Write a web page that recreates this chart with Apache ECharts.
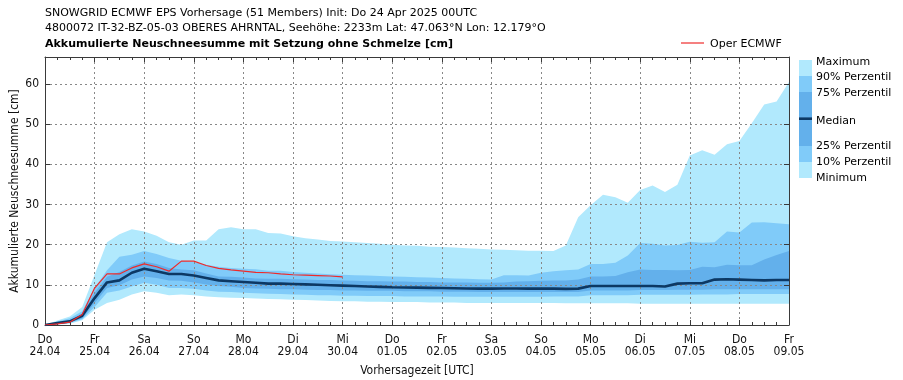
<!DOCTYPE html>
<html>
<head>
<meta charset="utf-8">
<script src="https://cdn.jsdelivr.net/npm/echarts@6/dist/echarts.min.js"></script>
<style>
html,body{margin:0;padding:0;background:#fff;}
#chart{width:903px;height:380px;}
</style>
</head>
<body>
<div id="chart"></div>
<script>
// ---- data (6-hourly steps from 24.04.2025 00UTC) ----
const stepHours = 6;
const dayNames = ["Do","Fr","Sa","So","Mo","Di","Mi","Do","Fr","Sa","So","Mo","Di","Mi","Do","Fr"];
const dayDates = ["24.04","25.04","26.04","27.04","28.04","29.04","30.04","01.05","02.05","03.05","04.05","05.05","06.05","07.05","08.05","09.05"];
const yTicks = [0,10,20,30,40,50,60];

const minimum = [0,0.1,0.3,1.2,3.8,5.5,6.3,7.6,8.4,8.0,
  7.4,7.6,7.4,7.1,6.9,6.8,6.7,6.6,6.5,6.4,
  6.3,6.2,6.1,6.0,5.9,5.9,5.8,5.8,5.7,5.7,
  5.7,5.6,5.6,5.6,5.5,5.5,5.5,5.5,5.5,5.5,
  5.5,5.5,5.4,5.4,5.4,5.4,5.4,5.4,5.3,5.3,
  5.3,5.3,5.3,5.3,5.3,5.3,5.3,5.3,5.3,5.3,5.3];
const p10 = [0,0.2,0.5,1.4,4.5,8.0,8.6,9.6,10.5,10.0,
  9.2,9.2,9.0,8.6,8.3,8.2,8.0,7.9,7.8,7.7,
  7.6,7.5,7.4,7.4,7.3,7.3,7.2,7.2,7.2,7.1,
  7.1,7.1,7.1,7.0,7.0,7.0,7.0,7.0,7.0,7.0,
  7.0,7.1,7.1,7.1,7.4,7.4,7.4,7.4,7.5,7.5,
  7.5,7.5,7.5,7.6,7.6,7.6,7.7,7.7,7.7,7.7,7.7];
const p25 = [0,0.3,0.7,1.6,5.5,9.2,9.9,11.3,12.1,11.7,
  11.1,11.0,10.6,10.1,9.7,9.5,9.2,9.1,9.0,8.9,
  8.9,8.8,8.7,8.7,8.6,8.6,8.5,8.5,8.5,8.4,
  8.4,8.4,8.3,8.3,8.3,8.2,8.2,8.2,8.2,8.2,
  8.2,8.2,8.2,8.2,8.6,8.6,8.6,8.6,8.7,8.7,
  8.7,8.8,8.8,8.8,8.9,8.9,8.9,8.9,8.9,8.9,8.9];
const median = [0,0.5,0.9,2.3,6.7,10.6,11.1,13.0,14.0,13.4,
  12.7,12.7,12.3,11.7,11.1,10.9,10.7,10.5,10.3,10.3,
  10.2,10.1,10.0,9.9,9.8,9.7,9.6,9.5,9.4,9.35,
  9.3,9.25,9.2,9.15,9.1,9.05,9.05,9.1,9.1,9.05,
  9.05,9.05,9.0,9.05,9.7,9.7,9.7,9.7,9.7,9.7,
  9.6,10.3,10.4,10.4,11.3,11.4,11.3,11.2,11.1,11.2,11.2];
const p75 = [0,0.7,1.2,2.9,8.0,12.0,13.2,14.8,15.8,15.2,
  14.2,13.8,13.6,12.8,12.1,12.0,11.8,11.6,11.5,11.5,
  11.4,11.3,11.2,11.2,11.1,11.0,10.9,10.9,10.8,10.8,
  10.7,10.7,10.6,10.6,10.6,10.5,10.5,10.6,10.8,10.9,
  11.0,11.1,11.1,11.3,12.1,12.1,12.2,13.1,13.8,13.7,
  13.7,13.6,13.7,14.5,14.4,15.0,14.9,14.9,16.3,17.4,18.4];
const p90 = [0,0.9,1.7,3.4,9.2,13.6,17.0,17.5,18.4,17.7,
  16.7,16.0,15.7,15.0,14.5,14.2,14.0,13.9,13.5,13.5,
  13.2,13.0,12.8,12.6,12.5,12.4,12.3,12.2,12.1,12.0,
  11.9,11.8,11.7,11.6,11.5,11.4,11.3,12.4,12.4,12.3,
  13.0,13.4,13.6,13.8,15.2,15.2,15.5,17.3,20.4,20.2,
  19.8,19.9,20.7,20.5,20.6,23.3,23.0,25.5,25.6,25.3,25.1];
const maximum = [0,1.1,2.1,4.5,12.5,20.6,22.6,23.8,23.3,22.2,
  20.6,20.0,21.0,21.0,23.8,24.3,23.8,23.8,22.9,22.8,
  22.1,21.6,21.3,20.9,20.8,20.6,20.4,20.2,20.0,19.8,
  19.7,19.5,19.4,19.3,19.1,19.0,18.8,18.7,18.6,18.5,
  18.5,18.4,19.8,26.8,29.8,32.4,31.8,30.4,33.6,34.7,
  33.1,34.9,42.2,43.5,42.4,45.0,45.8,50.2,54.9,55.6,60.5];
const operEcmwf = [0,0.3,0.7,2.6,9.2,12.7,12.7,14.2,15.2,14.5,
  13.4,15.9,15.9,14.8,14.1,13.7,13.4,13.1,13.0,12.7,
  12.5,12.4,12.3,12.2,12.0];

// ---- build ----
const hours = minimum.map((_, i) => i * stepHours);
const pairs = arr => arr.map((v, i) => [hours[i], v]);

const C_LIGHT = '#b1e9fd';
const C_MID = '#80cbf9';
const C_DARK = '#63b0eb';
const C_MED = '#0c3864';
const C_OPER = '#ee2a2a';
const FONT = 'DejaVu Sans';
const FONT_C = "'DejaVu Sans Condensed','Liberation Sans Narrow','DejaVu Sans'";

// each band drawn as an area down to 0, painted from the top envelope downward
function band(name, arr, color, z) {
  return {
    name, type: 'line', data: pairs(arr), symbol: 'none', silent: true,
    lineStyle: { width: 0, opacity: 0 },
    areaStyle: { color, opacity: 1, origin: 'start' },
    z
  };
}

const chart = echarts.init(document.getElementById('chart'), null, { renderer: 'canvas' });
const axisColor = '#3a3a3a';

const option = {
  animation: false,
  backgroundColor: '#ffffff',
  grid: { left: 45, top: 57, width: 744, height: 268, containLabel: false, outerBoundsMode: 'none' },
  xAxis: [{
    type: 'value', min: 0, max: 360, interval: 24, z: 3,
    axisLine: { show: true, onZero: false, lineStyle: { color: axisColor, width: 1 } },
    axisTick: { show: true, inside: true, length: 5, lineStyle: { color: axisColor } },
    minorTick: { show: true, splitNumber: 4, length: 3, lineStyle: { color: axisColor } },
    splitLine: { show: true, lineStyle: { color: '#888', type: [2, 3], width: 1 } },
    axisLabel: {
      margin: 9, color: '#111', fontFamily: FONT_C, fontSize: 12, lineHeight: 12,
      formatter: v => { const k = Math.round(v / 24); return dayNames[k] + '\n' + dayDates[k]; }
    },
    name: 'Vorhersagezeit [UTC]', nameLocation: 'middle', nameGap: 40, nameMoveOverlap: false,
    nameTextStyle: { color: '#111', fontFamily: FONT_C, fontSize: 12 }
  }, {
    type: 'value', min: 0, max: 360, interval: 24, position: 'top', z: 3,
    axisLine: { show: true, onZero: false, lineStyle: { color: axisColor, width: 1 } },
    axisTick: { show: true, inside: true, length: 5, lineStyle: { color: axisColor } },
    minorTick: { show: true, splitNumber: 4, length: 3, lineStyle: { color: axisColor } },
    splitLine: { show: false }, axisLabel: { show: false }
  }],
  yAxis: [{
    type: 'value', min: 0, max: 66.7, interval: 10, z: 3,
    axisLine: { show: true, onZero: false, lineStyle: { color: axisColor, width: 1 } },
    axisTick: { show: true, inside: true, length: 5, lineStyle: { color: axisColor } },
    splitLine: { show: true, lineStyle: { color: '#888', type: [2, 3], width: 1 } },
    axisLabel: {
      margin: 6, color: '#111', fontFamily: FONT_C, fontSize: 12,
      formatter: v => (yTicks.indexOf(v) >= 0 ? String(v) : '')
    },
    name: 'Akkumulierte Neuschneesumme [cm]', nameLocation: 'middle', nameGap: 24, nameRotate: 90,
    nameMoveOverlap: false,
    nameTextStyle: { color: '#111', fontFamily: FONT_C, fontSize: 12 }
  }, {
    type: 'value', min: 0, max: 66.7, interval: 10, position: 'right', z: 3,
    axisLine: { show: true, onZero: false, lineStyle: { color: axisColor, width: 1 } },
    axisTick: { show: true, inside: true, length: 5, lineStyle: { color: axisColor } },
    splitLine: { show: false }, axisLabel: { show: false }
  }],
  series: [
    band('Maximum', maximum, C_LIGHT, 2),
    band('90% Perzentil', p90, C_MID, 2),
    band('75% Perzentil', p75, C_DARK, 2),
    band('25% Perzentil', p25, C_MID, 2),
    band('10% Perzentil', p10, C_LIGHT, 2),
    band('Minimum', minimum, '#ffffff', 2),
    {
      name: 'Median', type: 'line', data: pairs(median), symbol: 'none', z: 5,
      lineStyle: { color: C_MED, width: 2.6 }
    },
    {
      name: 'Oper ECMWF', type: 'line', data: pairs(operEcmwf), symbol: 'none', z: 6,
      lineStyle: { color: C_OPER, width: 1.2 }
    }
  ],
  graphic: [
    { type: 'text', left: 45, top: 8, style: { text: 'SNOWGRID ECMWF EPS Vorhersage (51 Members) Init: Do 24 Apr 2025 00UTC', font: '11px ' + FONT, fill: '#000' } },
    { type: 'text', left: 45, top: 23, style: { text: '4800072 IT-32-BZ-05-03 OBERES AHRNTAL, Seehöhe: 2233m Lat: 47.063°N Lon: 12.179°O', font: '11px ' + FONT, fill: '#000' } },
    { type: 'text', left: 45, top: 39, style: { text: 'Akkumulierte Neuschneesumme mit Setzung ohne Schmelze [cm]', font: 'bold 11px ' + FONT, fill: '#000' } },
    // Oper legend
    { type: 'line', shape: { x1: 681, y1: 43, x2: 704, y2: 43 }, style: { stroke: C_OPER, lineWidth: 1.2 } },
    { type: 'text', left: 710, top: 39, style: { text: 'Oper ECMWF', font: '11px ' + FONT, fill: '#000' } },
    // percentile colour bar legend
    { type: 'rect', shape: { x: 799, y: 60, width: 13, height: 16 }, style: { fill: C_LIGHT } },
    { type: 'rect', shape: { x: 799, y: 76, width: 13, height: 16 }, style: { fill: C_MID } },
    { type: 'rect', shape: { x: 799, y: 92, width: 13, height: 54 }, style: { fill: C_DARK } },
    { type: 'rect', shape: { x: 799, y: 146, width: 13, height: 16 }, style: { fill: C_MID } },
    { type: 'rect', shape: { x: 799, y: 162, width: 13, height: 16 }, style: { fill: C_LIGHT } },
    { type: 'line', shape: { x1: 799, y1: 118.7, x2: 812, y2: 118.7 }, style: { stroke: C_MED, lineWidth: 2.6 } },
    { type: 'text', left: 816, top: 57, style: { text: 'Maximum', font: '11px ' + FONT, fill: '#000' } },
    { type: 'text', left: 816, top: 72, style: { text: '90% Perzentil', font: '11px ' + FONT, fill: '#000' } },
    { type: 'text', left: 816, top: 88, style: { text: '75% Perzentil', font: '11px ' + FONT, fill: '#000' } },
    { type: 'text', left: 816, top: 116, style: { text: 'Median', font: '11px ' + FONT, fill: '#000' } },
    { type: 'text', left: 816, top: 141, style: { text: '25% Perzentil', font: '11px ' + FONT, fill: '#000' } },
    { type: 'text', left: 816, top: 157, style: { text: '10% Perzentil', font: '11px ' + FONT, fill: '#000' } },
    { type: 'text', left: 816, top: 173, style: { text: 'Minimum', font: '11px ' + FONT, fill: '#000' } }
  ]
};
chart.setOption(option);
</script>
</body>
</html>
